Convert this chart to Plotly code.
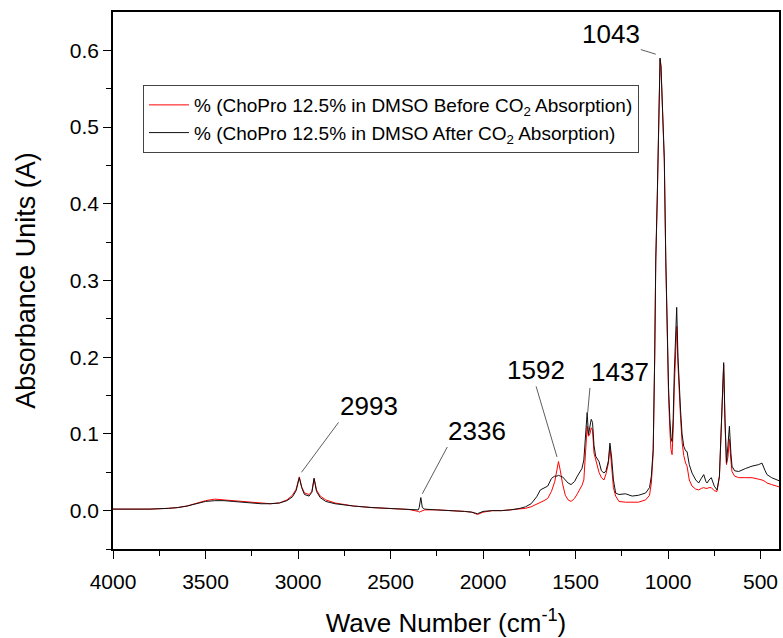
import plotly.graph_objects as go

# FTIR spectra of ChoPro 12.5% in DMSO, before and after CO2 absorption
wavenumber = [
    4000, 3900, 3800, 3700, 3650, 3600, 3550, 3500, 3450, 3400, 3350, 3300, 3250, 3200, 3150,
    3100, 3060, 3030, 3010, 2993, 2980, 2965, 2940, 2925, 2913, 2900, 2880, 2850, 2800, 2750,
    2700, 2600, 2500, 2400, 2350, 2345, 2336, 2328, 2315, 2250, 2200, 2100, 2060, 2030, 2000,
    1950, 1900, 1850, 1800, 1770, 1740, 1710, 1690, 1670, 1650, 1630, 1612, 1600, 1592, 1582,
    1570, 1555, 1540, 1524, 1505, 1490, 1478, 1465, 1455, 1447, 1440, 1437, 1430, 1422, 1415,
    1408, 1400, 1391, 1373, 1360, 1346, 1335, 1322, 1314, 1305, 1295, 1283, 1265, 1230, 1194,
    1160, 1121, 1100, 1090, 1080, 1072, 1066, 1058, 1052, 1047, 1043, 1038, 1032, 1026, 1020,
    1012, 1005, 997, 990, 984, 978, 972, 966, 958, 953, 946, 940, 932, 924, 915,
    905, 897, 885, 870, 850, 834, 820, 807, 795, 789, 778, 766, 750, 735, 722,
    711, 704, 699, 692, 684, 676, 668, 660, 654, 640, 618, 580, 546, 510, 492,
    475, 465, 440, 411, 400,
]

absorb_before = [
    0.002, 0.002, 0.002, 0.003, 0.004, 0.006, 0.010, 0.013, 0.015, 0.014, 0.013, 0.012, 0.011, 0.010, 0.009,
    0.010, 0.014, 0.020, 0.028, 0.044, 0.031, 0.023, 0.021, 0.025, 0.042, 0.027, 0.019, 0.014, 0.010, 0.008,
    0.006, 0.004, 0.003, 0.0015, -0.001, -0.002, -0.001, 0.000, 0.001, 0.001, 0.0005, -0.001, -0.002, -0.005, -0.002,
    0.000, 0.000, 0.001, 0.002, 0.003, 0.005, 0.008, 0.011, 0.013, 0.016, 0.025, 0.038, 0.056, 0.064, 0.052,
    0.035, 0.020, 0.014, 0.012, 0.016, 0.022, 0.027, 0.033, 0.040, 0.075, 0.105, 0.110, 0.097, 0.100, 0.108,
    0.105, 0.075, 0.066, 0.050, 0.043, 0.040, 0.048, 0.062, 0.084, 0.060, 0.030, 0.019, 0.012, 0.011, 0.011,
    0.011, 0.014, 0.020, 0.036, 0.075, 0.195, 0.325, 0.405, 0.475, 0.555, 0.588, 0.578, 0.540, 0.505, 0.455,
    0.325, 0.225, 0.150, 0.105, 0.080, 0.073, 0.105, 0.160, 0.215, 0.240, 0.190, 0.150, 0.120, 0.090, 0.072,
    0.062, 0.058, 0.040, 0.032, 0.028, 0.027, 0.029, 0.030, 0.029, 0.029, 0.030, 0.030, 0.026, 0.025, 0.044,
    0.115, 0.170, 0.190, 0.115, 0.060, 0.070, 0.093, 0.065, 0.051, 0.045, 0.043, 0.043, 0.043, 0.041, 0.040,
    0.038, 0.036, 0.034, 0.032, 0.031,
]

absorb_after = [
    0.002, 0.002, 0.002, 0.003, 0.004, 0.006, 0.009, 0.012, 0.013, 0.013, 0.012, 0.011, 0.010, 0.009, 0.009,
    0.010, 0.013, 0.018, 0.026, 0.043, 0.030, 0.021, 0.019, 0.024, 0.042, 0.025, 0.017, 0.012, 0.009, 0.007,
    0.006, 0.004, 0.003, 0.0015, 0.001, 0.004, 0.017, 0.004, 0.002, 0.001, 0.0005, -0.001, -0.002, -0.004, -0.001,
    0.000, 0.000, 0.001, 0.003, 0.005, 0.009, 0.018, 0.027, 0.030, 0.032, 0.042, 0.045, 0.045, 0.046, 0.045,
    0.044, 0.040, 0.036, 0.034, 0.038, 0.045, 0.050, 0.055, 0.066, 0.095, 0.118, 0.128, 0.099, 0.110, 0.119,
    0.115, 0.085, 0.071, 0.064, 0.052, 0.049, 0.052, 0.065, 0.088, 0.070, 0.040, 0.023, 0.021, 0.022, 0.019,
    0.020, 0.023, 0.030, 0.045, 0.080, 0.200, 0.330, 0.410, 0.480, 0.560, 0.590, 0.580, 0.545, 0.510, 0.460,
    0.330, 0.230, 0.160, 0.120, 0.095, 0.090, 0.120, 0.180, 0.240, 0.265, 0.200, 0.160, 0.130, 0.100, 0.084,
    0.078, 0.077, 0.060, 0.049, 0.040, 0.036, 0.042, 0.047, 0.038, 0.036, 0.040, 0.043, 0.032, 0.027, 0.045,
    0.119, 0.175, 0.193, 0.120, 0.062, 0.085, 0.110, 0.075, 0.058, 0.052, 0.051, 0.055, 0.058, 0.060, 0.062,
    0.052, 0.047, 0.043, 0.040, 0.039,
]

# Peak labels with their leader lines (leader end = near the peak, label anchor = text corner)
peak_labels = ["1043", "1437", "1592", "2336", "2993"]
leader_end_x = [1066, 1434, 1600, 2328, 2981]
leader_end_y = [0.595, 0.128, 0.070, 0.022, 0.050]
label_x = [1147, 1422, 1713, 2193, 2781]
label_y = [0.601, 0.160, 0.162, 0.083, 0.115]
label_xanchor = ["right", "left", "center", "left", "left"]

series_names = [
    "% (ChoPro 12.5% in DMSO Before CO<sub>2</sub> Absorption)",
    "% (ChoPro 12.5% in DMSO After CO<sub>2</sub> Absorption)",
]

FONT = "Liberation Sans, Arial, sans-serif"

fig = go.Figure()
fig.add_trace(go.Scatter(x=wavenumber, y=absorb_before, mode="lines", name=series_names[0],
                         line=dict(color="#ff0000", width=1)))
fig.add_trace(go.Scatter(x=wavenumber, y=absorb_after, mode="lines", name=series_names[1],
                         line=dict(color="#111111", width=1)))

for txt, hx, hy, tx, ty, xa in zip(peak_labels, leader_end_x, leader_end_y, label_x, label_y, label_xanchor):
    fig.add_annotation(
        x=hx, y=hy, ax=tx, ay=ty, axref="x", ayref="y", xref="x", yref="y",
        text=txt, showarrow=True, arrowhead=0, arrowwidth=0.8, arrowcolor="#333333",
        xanchor=xa, yanchor="bottom", font=dict(family=FONT, size=26, color="black"),
        borderpad=0, standoff=0, startstandoff=0,
    )

axis_common = dict(
    showline=True, linecolor="black", linewidth=1.5, mirror=True,
    ticks="outside", ticklen=8, tickwidth=1.2, tickcolor="black",
    showgrid=False, zeroline=False,
    tickfont=dict(family=FONT, size=21, color="black"),
)

fig.update_xaxes(
    range=[4000, 400], tickvals=[4000, 3500, 3000, 2500, 2000, 1500, 1000, 500],
    minor=dict(tickvals=[3750, 3250, 2750, 2250, 1750, 1250, 750], ticks="outside", ticklen=5,
               tickwidth=1.2, tickcolor="black"),
    ticklabelstandoff=5,
    title=dict(text="Wave Number (cm<sup>-1</sup>)", font=dict(family=FONT, size=26, color="black"),
               standoff=24),
    **axis_common,
)
fig.update_yaxes(
    range=[-0.05, 0.65], tickvals=[0.0, 0.1, 0.2, 0.3, 0.4, 0.5, 0.6], tickformat=".1f",
    minor=dict(tickvals=[-0.05, 0.05, 0.15, 0.25, 0.35, 0.45, 0.55], ticks="outside", ticklen=5,
               tickwidth=1.2, tickcolor="black"),
    title=dict(text="Absorbance Units (A)", font=dict(family=FONT, size=27, color="black"),
               standoff=26),
    **axis_common,
)

fig.update_layout(
    width=783, height=638,
    margin=dict(l=113, r=2, t=12, b=89),
    paper_bgcolor="white", plot_bgcolor="white",
    showlegend=True,
    legend=dict(x=0.045, y=0.864, xanchor="left", yanchor="top",
                bordercolor="#444444", borderwidth=1, bgcolor="white",
                font=dict(family=FONT, size=19, color="black"),
                itemwidth=40, tracegroupgap=0),
)

fig.write_html("out.html")
